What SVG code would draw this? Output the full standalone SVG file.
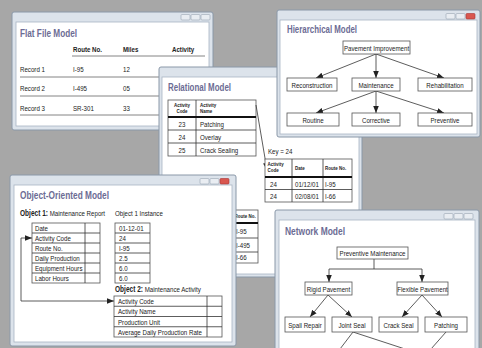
<svg xmlns="http://www.w3.org/2000/svg" width="482" height="348" viewBox="0 0 482 348">
<style>
.win{fill:#dce3eb;stroke:#8a98a8;stroke-width:1}
.pane{fill:#fff;stroke:#a9b5c3;stroke-width:0.8}
.ttl{font-family:"Liberation Sans",Arial,sans-serif;font-weight:bold;font-size:10px;fill:#6c6c94}
.t{font-family:"Liberation Sans",Arial,sans-serif;font-size:8px;fill:#222}
.h{font-family:"Liberation Sans",Arial,sans-serif;font-size:8px;font-weight:bold;fill:#222}
.hs{font-family:"Liberation Sans",Arial,sans-serif;font-size:5.6px;font-weight:bold;fill:#222}
.c{text-anchor:middle}
.box{fill:#fff;stroke:#555;stroke-width:0.8}
.ln{stroke:#333;stroke-width:0.8;fill:none}
.rl{stroke:#666;stroke-width:0.8;fill:none}
.thk{stroke:#111;stroke-width:1.8}
.btn{fill:#e9edf2;stroke:#98a4b2;stroke-width:0.6}
.btx{fill:#d9574f;stroke:#a33;stroke-width:0.6}
.ar{stroke:#333;stroke-width:0.8;fill:none;marker-end:url(#ah)}
</style>
<defs>
<marker id="ah" viewBox="0 0 10 10" refX="10" refY="5" markerWidth="7" markerHeight="7" markerUnits="userSpaceOnUse" orient="auto">
<path d="M0,1 L10,5 L0,9 Z" fill="#222"/>
</marker>
</defs>
<rect x="0" y="0" width="482" height="348" fill="#a7a7a7"/>

<!-- Flat File window -->
<g id="flat-file">
<rect class="win" x="12" y="12" width="201" height="118" rx="2"/>
<rect class="pane" x="16" y="22" width="193" height="104"/>
<rect class="btn" x="181" y="14.5" width="9" height="5.5" rx="1"/>
<rect class="btn" x="191" y="14.5" width="9" height="5.5" rx="1"/>
<rect class="btn" x="201" y="14.5" width="9" height="5.5" rx="1"/>
<text class="ttl" x="20" y="37" textLength="57" lengthAdjust="spacingAndGlyphs">Flat File Model</text>
<text class="h" transform="translate(73 52) scale(.77 1)">Route No.</text>
<text class="h" transform="translate(123 52) scale(.77 1)">Miles</text>
<text class="h" transform="translate(172 52) scale(.77 1)">Activity</text>
<line class="rl" x1="72" y1="56" x2="205" y2="56"/>
<text class="t" transform="translate(20 72) scale(.77 1)">Record 1</text>
<text class="t" transform="translate(73 72) scale(.77 1)">I-95</text>
<text class="t" transform="translate(123 72) scale(.77 1)">12</text>
<text class="t" transform="translate(172 72) scale(.77 1)">Overlay</text>
<line class="rl" x1="20" y1="77" x2="205" y2="77"/>
<text class="t" transform="translate(20 91) scale(.77 1)">Record 2</text>
<text class="t" transform="translate(73 91) scale(.77 1)">I-495</text>
<text class="t" transform="translate(123 91) scale(.77 1)">05</text>
<line class="rl" x1="20" y1="96" x2="205" y2="96"/>
<text class="t" transform="translate(20 111) scale(.77 1)">Record 3</text>
<text class="t" transform="translate(73 111) scale(.77 1)">SR-301</text>
<text class="t" transform="translate(123 111) scale(.77 1)">33</text>
<line class="rl" x1="20" y1="115" x2="205" y2="115"/>
</g>

<!-- Relational window -->
<g id="relational">
<rect class="win" x="159" y="67" width="203" height="210" rx="2"/>
<rect class="pane" x="162" y="77" width="197" height="197"/>
<text class="ttl" x="168" y="91" textLength="63" lengthAdjust="spacingAndGlyphs">Relational Model</text>
<g id="activity-table">
<rect class="box" x="168" y="100" width="88" height="56"/>
<line class="ln" x1="196" y1="100" x2="196" y2="156"/>
<line class="thk" x1="168" y1="117" x2="256" y2="117"/>
<line class="ln" x1="168" y1="130" x2="256" y2="130"/>
<line class="ln" x1="168" y1="143" x2="256" y2="143"/>
<text class="hs c" transform="translate(182 106.5) scale(.8 1)">Activity</text>
<text class="hs c" transform="translate(182 112.5) scale(.8 1)">Code</text>
<text class="hs" transform="translate(200 106.5) scale(.8 1)">Activity</text>
<text class="hs" transform="translate(200 112.5) scale(.8 1)">Name</text>
<text class="t c" transform="translate(182 126.8) scale(.77 1)">23</text>
<text class="t" transform="translate(200 126.8) scale(.77 1)">Patching</text>
<text class="t c" transform="translate(182 139.8) scale(.77 1)">24</text>
<text class="t" transform="translate(200 139.8) scale(.77 1)">Overlay</text>
<text class="t c" transform="translate(182 152.8) scale(.77 1)">25</text>
<text class="t" transform="translate(200 152.8) scale(.77 1)">Crack Sealing</text>
</g>
<g id="rel-connectors">
<line class="ar" x1="256" y1="105" x2="267" y2="170"/>
</g>
<text class="t" transform="translate(268 154) scale(.77 1)">Key = 24</text>
<g id="key-table">
<rect class="box" x="265" y="159" width="87" height="43"/>
<line class="ln" x1="292" y1="159" x2="292" y2="202"/>
<line class="ln" x1="323" y1="159" x2="323" y2="202"/>
<line class="thk" x1="265" y1="177" x2="352" y2="177"/>
<line class="ln" x1="265" y1="189.5" x2="352" y2="189.5"/>
<text class="hs" transform="translate(267.5 166) scale(.8 1)">Activity</text>
<text class="hs" transform="translate(267.5 172) scale(.8 1)">Code</text>
<text class="hs" transform="translate(295 170) scale(.8 1)">Date</text>
<text class="hs" transform="translate(325 170) scale(.8 1)">Route No.</text>
<text class="t" transform="translate(270 186.8) scale(.77 1)">24</text>
<text class="t" transform="translate(295 186.8) scale(.77 1)">01/12/01</text>
<text class="t" transform="translate(325 186.8) scale(.77 1)">I-95</text>
<text class="t" transform="translate(270 199.2) scale(.77 1)">24</text>
<text class="t" transform="translate(295 199.2) scale(.77 1)">02/08/01</text>
<text class="t" transform="translate(325 199.2) scale(.77 1)">I-66</text>
</g>
<g id="route-table">
<rect class="box" x="220" y="210" width="38" height="53"/>
<line class="thk" x1="220" y1="223" x2="258" y2="223"/>
<line class="ln" x1="220" y1="238" x2="258" y2="238"/>
<line class="ln" x1="220" y1="252" x2="258" y2="252"/>
<text class="hs" transform="translate(234.5 218) scale(.8 1)">Route No.</text>
<text class="t" transform="translate(236 234) scale(.77 1)">I-95</text>
<text class="t" transform="translate(236 248) scale(.77 1)">I-495</text>
<text class="t" transform="translate(236 260) scale(.77 1)">I-66</text>
</g>
</g>

<!-- Hierarchical window -->
<g id="hierarchical">
<rect class="win" x="277" y="10" width="203" height="127" rx="2"/>
<rect class="pane" x="280" y="20" width="197" height="114"/>
<rect class="btn" x="446" y="13.5" width="9" height="5.5" rx="1"/>
<rect class="btn" x="456" y="13.5" width="9" height="5.5" rx="1"/>
<rect class="btx" x="466" y="13.5" width="9" height="5.5" rx="1"/>
<text class="ttl" x="287" y="33" textLength="70" lengthAdjust="spacingAndGlyphs">Hierarchical Model</text>
<g id="hier-connectors">
<line class="ar" x1="376" y1="54" x2="316" y2="78"/>
<line class="ar" x1="376" y1="54" x2="376" y2="78"/>
<line class="ar" x1="376" y1="54" x2="444" y2="78"/>
<line class="ar" x1="376" y1="91" x2="316" y2="113"/>
<line class="ar" x1="376" y1="91" x2="376" y2="113"/>
<line class="ar" x1="376" y1="91" x2="444" y2="113"/>
</g>
<g id="pavement-improvement"><rect class="box" x="343" y="41" width="67" height="13"/><text class="t c" transform="translate(376.5 50.6) scale(.77 1)">Pavement Improvement</text></g>
<g id="reconstruction"><rect class="box" x="287" y="78" width="50" height="13"/><text class="t c" transform="translate(312 87.6) scale(.77 1)">Reconstruction</text></g>
<g id="maintenance"><rect class="box" x="352" y="78" width="48" height="13"/><text class="t c" transform="translate(376 87.6) scale(.77 1)">Maintenance</text></g>
<g id="rehabilitation"><rect class="box" x="418" y="78" width="54" height="13"/><text class="t c" transform="translate(445 87.6) scale(.77 1)">Rehabilitation</text></g>
<g id="routine"><rect class="box" x="287" y="113" width="52" height="13"/><text class="t c" transform="translate(313 122.6) scale(.77 1)">Routine</text></g>
<g id="corrective"><rect class="box" x="352" y="113" width="48" height="13"/><text class="t c" transform="translate(376 122.6) scale(.77 1)">Corrective</text></g>
<g id="preventive"><rect class="box" x="418" y="113" width="54" height="13"/><text class="t c" transform="translate(445 122.6) scale(.77 1)">Preventive</text></g>
</g>

<!-- Object-Oriented window -->
<g id="object-oriented">
<rect class="win" x="10" y="175" width="226" height="171" rx="2"/>
<rect class="pane" x="14" y="185" width="218" height="157"/>
<rect class="btn" x="200" y="178.5" width="9" height="5.5" rx="1"/>
<rect class="btn" x="210" y="178.5" width="9" height="5.5" rx="1"/>
<rect class="btx" x="220" y="178.5" width="9" height="5.5" rx="1"/>
<text class="ttl" x="20" y="199" textLength="89" lengthAdjust="spacingAndGlyphs">Object-Oriented Model</text>
<text class="t" transform="translate(20 216) scale(.77 1)"><tspan font-weight="bold" font-size="8.5">Object 1:</tspan> Maintenance Report</text>
<text class="t" transform="translate(115 216) scale(.77 1)">Object 1 Instance</text>
<g id="oo-connectors">
<polyline class="ln" points="21,238 21,301"/>
<line class="ar" x1="21" y1="238" x2="32" y2="238"/>
<line class="ar" x1="21" y1="301" x2="114" y2="301"/>
</g>
<g id="object1">
<rect class="box" x="32" y="223" width="68" height="60"/>
<line class="ln" x1="85" y1="223" x2="85" y2="283"/>
<line class="ln" x1="32" y1="233" x2="100" y2="233"/>
<line class="ln" x1="32" y1="243" x2="100" y2="243"/>
<line class="ln" x1="32" y1="253" x2="100" y2="253"/>
<line class="ln" x1="32" y1="263" x2="100" y2="263"/>
<line class="ln" x1="32" y1="273" x2="100" y2="273"/>
<text class="t" transform="translate(35 231) scale(.77 1)">Date</text>
<text class="t" transform="translate(35 241) scale(.77 1)">Activity Code</text>
<text class="t" transform="translate(35 251) scale(.77 1)">Route No.</text>
<text class="t" transform="translate(35 261) scale(.77 1)">Daily Production</text>
<text class="t" transform="translate(35 271) scale(.77 1)">Equipment Hours</text>
<text class="t" transform="translate(35 281) scale(.77 1)">Labor Hours</text>
</g>
<g id="object1-instance">
<rect class="box" x="115" y="223" width="35" height="60"/>
<line class="ln" x1="115" y1="233" x2="150" y2="233"/>
<line class="ln" x1="115" y1="243" x2="150" y2="243"/>
<line class="ln" x1="115" y1="253" x2="150" y2="253"/>
<line class="ln" x1="115" y1="263" x2="150" y2="263"/>
<line class="ln" x1="115" y1="273" x2="150" y2="273"/>
<text class="t" transform="translate(119 231) scale(.77 1)">01-12-01</text>
<text class="t" transform="translate(119 241) scale(.77 1)">24</text>
<text class="t" transform="translate(119 251) scale(.77 1)">I-95</text>
<text class="t" transform="translate(119 261) scale(.77 1)">2.5</text>
<text class="t" transform="translate(119 271) scale(.77 1)">6.0</text>
<text class="t" transform="translate(119 281) scale(.77 1)">6.0</text>
</g>
<text class="t" transform="translate(115 292) scale(.77 1)"><tspan font-weight="bold" font-size="8.5">Object 2:</tspan> Maintenance Activity</text>
<g id="object2">
<rect class="box" x="114" y="296" width="108" height="41"/>
<line class="ln" x1="207" y1="296" x2="207" y2="337"/>
<line class="ln" x1="114" y1="306.25" x2="222" y2="306.25"/>
<line class="ln" x1="114" y1="316.5" x2="222" y2="316.5"/>
<line class="ln" x1="114" y1="326.75" x2="222" y2="326.75"/>
<text class="t" transform="translate(118 304.2) scale(.77 1)">Activity Code</text>
<text class="t" transform="translate(118 314.4) scale(.77 1)">Activity Name</text>
<text class="t" transform="translate(118 324.7) scale(.77 1)">Production Unit</text>
<text class="t" transform="translate(118 334.9) scale(.77 1)">Average Daily Production Rate</text>
</g>
</g>

<!-- Network window -->
<g id="network">
<rect class="win" x="275" y="210" width="204" height="145" rx="2"/>
<rect class="pane" x="279" y="220" width="196" height="135"/>
<rect class="btn" x="444" y="213.5" width="9" height="5.5" rx="1"/>
<rect class="btn" x="454" y="213.5" width="9" height="5.5" rx="1"/>
<rect class="btn" x="464" y="213.5" width="9" height="5.5" rx="1"/>
<text class="ttl" x="285" y="235" textLength="60" lengthAdjust="spacingAndGlyphs">Network Model</text>
<g id="net-connectors">
<polyline class="ln" points="374,259 374,269"/>
<line class="ln" x1="329" y1="269" x2="422" y2="269"/>
<line class="ar" x1="329" y1="269" x2="329" y2="282"/>
<line class="ar" x1="422" y1="269" x2="422" y2="282"/>
<line class="ar" x1="328" y1="295" x2="310" y2="317"/>
<line class="ar" x1="328" y1="295" x2="352" y2="317"/>
<line class="ar" x1="422" y1="295" x2="402" y2="317"/>
<line class="ar" x1="422" y1="295" x2="442" y2="317"/>
<line class="ln" x1="353" y1="332" x2="340" y2="349"/>
<line class="ln" x1="353" y1="332" x2="405" y2="349"/>
<line class="ln" x1="446" y1="332" x2="431" y2="349"/>
</g>
<g id="preventive-maintenance"><rect class="box" x="337" y="247" width="71" height="12"/><text class="t c" transform="translate(372.5 256) scale(.77 1)">Preventive Maintenance</text></g>
<g id="rigid-pavement"><rect class="box" x="305" y="282" width="47" height="13"/><text class="t c" transform="translate(328.5 291.6) scale(.77 1)">Rigid Pavement</text></g>
<g id="flexible-pavement"><rect class="box" x="397" y="282" width="51" height="13"/><text class="t c" transform="translate(422.5 291.6) scale(.77 1)">Flexible Pavement</text></g>
<g id="spall-repair"><rect class="box" x="285" y="317" width="40" height="15"/><text class="t c" transform="translate(305 327.6) scale(.77 1)">Spall Repair</text></g>
<g id="joint-seal"><rect class="box" x="332" y="317" width="40" height="15"/><text class="t c" transform="translate(352 327.6) scale(.77 1)">Joint Seal</text></g>
<g id="crack-seal"><rect class="box" x="379" y="317" width="39" height="15"/><text class="t c" transform="translate(398.5 327.6) scale(.77 1)">Crack Seal</text></g>
<g id="patching"><rect class="box" x="425" y="317" width="42" height="15"/><text class="t c" transform="translate(446 327.6) scale(.77 1)">Patching</text></g>
</g>
</svg>
